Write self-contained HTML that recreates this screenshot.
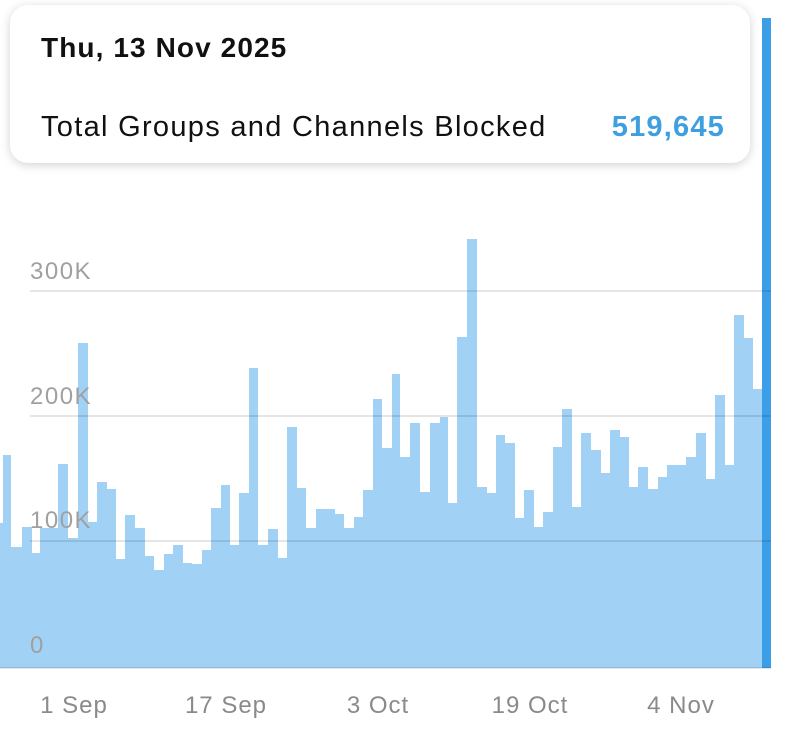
<!DOCTYPE html>
<html><head><meta charset="utf-8"><style>
body{margin:0;width:800px;height:742px;background:#fff;overflow:hidden;font-family:"Liberation Sans",sans-serif;position:relative}
.card{position:absolute;left:10px;top:5px;width:740px;height:158px;background:#fff;border-radius:18px;box-shadow:0 2px 10px rgba(0,0,0,0.18)}
.t{position:absolute;left:31px;top:27px;font-size:28px;font-weight:bold;color:#111;letter-spacing:1.1px}
.l{position:absolute;left:31px;top:106px;font-size:29px;color:#111;letter-spacing:1.3px}
.v{position:absolute;right:25px;top:106px;font-size:29px;font-weight:bold;color:#3e9fe0;letter-spacing:1.2px}
</style></head><body>
<svg width="800" height="742" style="position:absolute;left:0;top:0">
<path fill="#a1d2f5" d="M0 668 V523 H3 V455 H11 V547 H22 V527 H32 V553 H40 V528 H58 V464 H68 V538 H78 V343 H88 V522 H97 V482 H107 V489 H116 V559 H125 V515 H135 V528 H145 V556 H154 V570 H164 V554 H173 V545 H183 V563 H192 V564 H202 V550 H211 V508 H221 V485 H230 V545 H239 V493 H249 V368 H258 V545 H268 V529 H278 V558 H287 V427 H297 V488 H306 V528 H316 V509 H335 V514 H344 V528 H354 V517 H363 V490 H373 V399 H382 V448 H392 V374 H400 V457 H410 V423 H420 V492 H430 V423 H440 V417 H448 V503 H457 V337 H467 V239 H477 V487 H487 V493 H496 V435 H505 V443 H515 V518 H524 V490 H534 V527 H543 V512 H553 V447 H562 V409 H572 V507 H581 V433 H591 V450 H601 V473 H610 V430 H620 V437 H629 V487 H638 V467 H648 V489 H658 V477 H667 V465 H686 V457 H696 V433 H706 V479 H715 V395 H725 V465 H734 V315 H744 V338 H753 V389 H762 V668 Z"/>
<rect x="762" y="18" width="9" height="650" fill="#3c9ee6"/>
<g stroke="rgba(0,0,0,0.1)" stroke-width="2">
<line x1="30" y1="291" x2="771" y2="291"/>
<line x1="30" y1="416" x2="771" y2="416"/>
<line x1="30" y1="541" x2="771" y2="541"/>
<line x1="0" y1="668" x2="771" y2="668"/>
</g>
<g fill="#a0a0a0" font-family="Liberation Sans,sans-serif" font-size="24" letter-spacing="1.5">
<text x="30" y="279">300K</text>
<text x="30" y="404">200K</text>
<text x="30" y="528">100K</text>
<text x="30" y="653">0</text>
</g>
<g fill="#8a8a8a" font-family="Liberation Sans,sans-serif" font-size="24" letter-spacing="1" text-anchor="middle">
<text x="74" y="713">1 Sep</text>
<text x="226" y="713">17 Sep</text>
<text x="378" y="713">3 Oct</text>
<text x="530" y="713">19 Oct</text>
<text x="681" y="713">4 Nov</text>
</g>
</svg>
<div class="card"><div class="t">Thu, 13 Nov 2025</div><div class="l">Total Groups and Channels Blocked</div><div class="v">519,645</div></div>
</body></html>
